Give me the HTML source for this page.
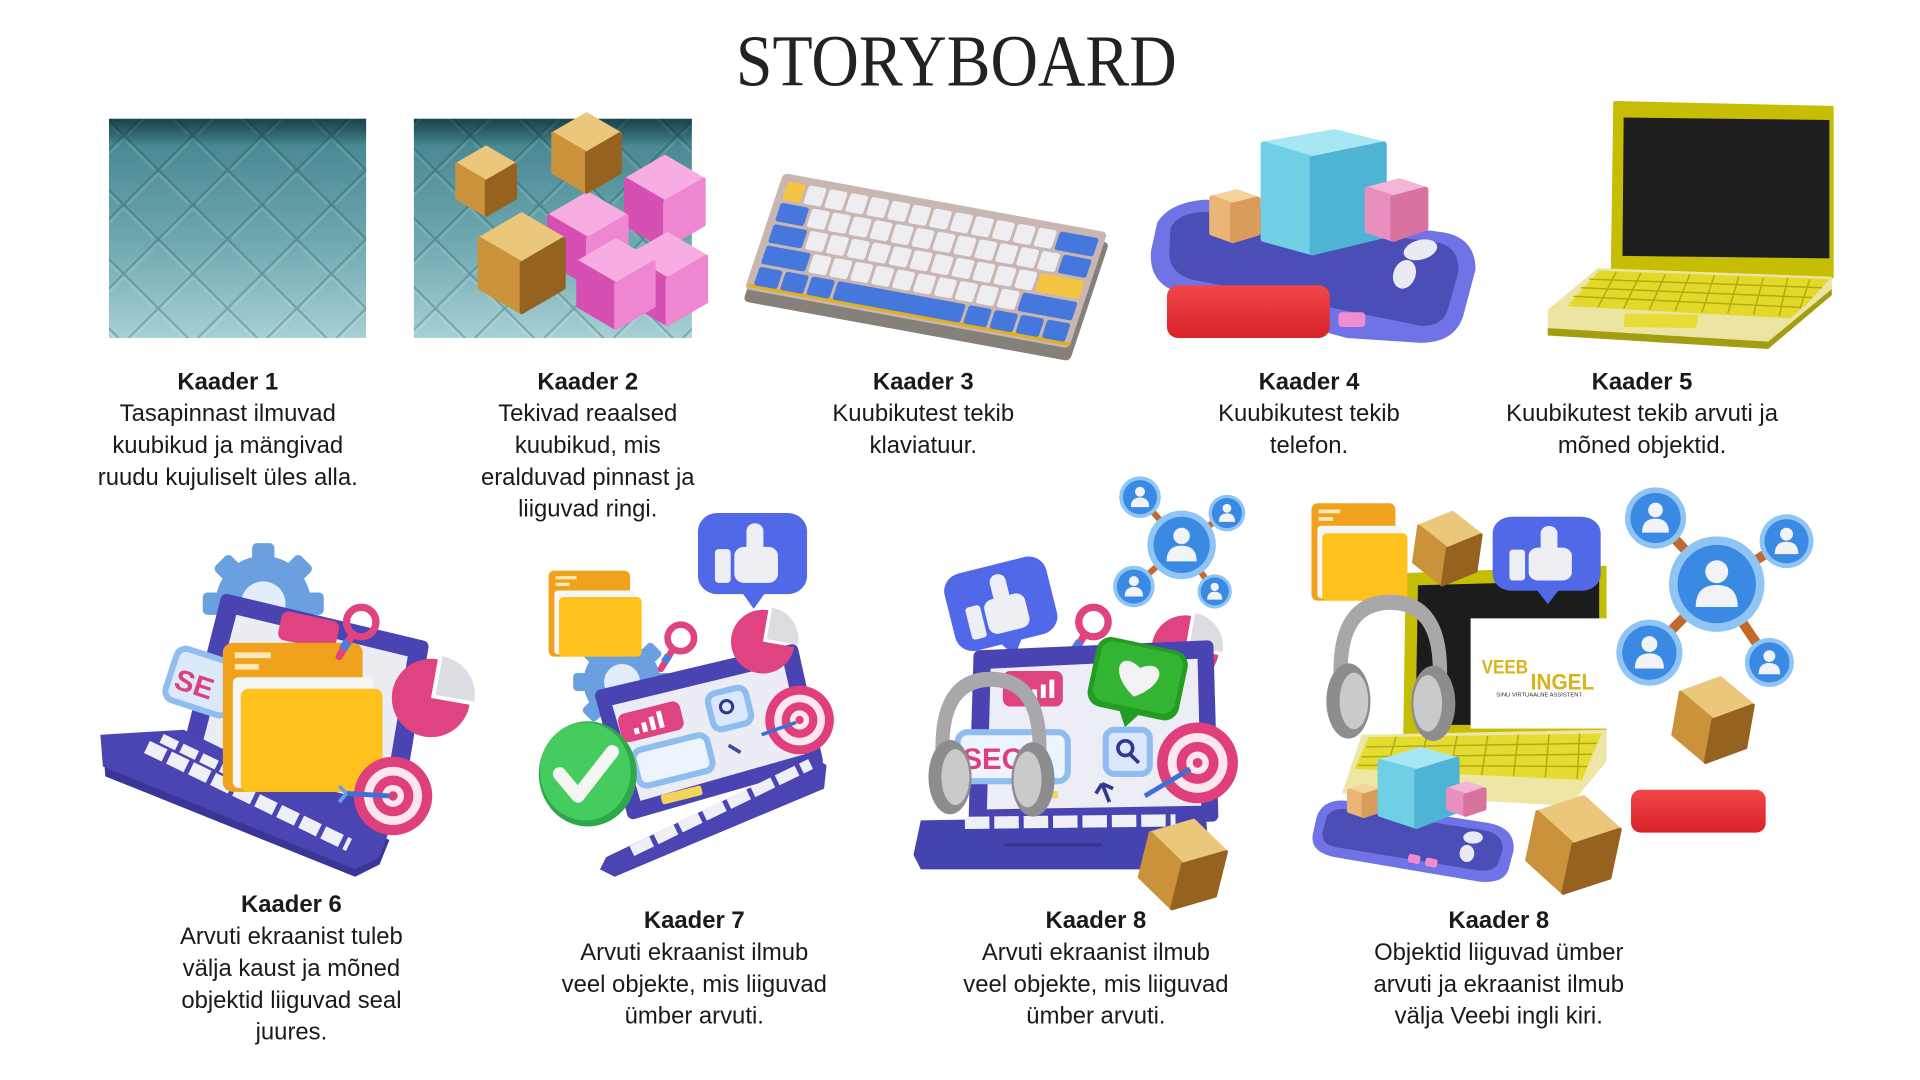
<!DOCTYPE html>
<html>
<head>
<meta charset="utf-8">
<style>
html,body{margin:0;padding:0;background:#ffffff;width:1920px;height:1080px;overflow:hidden;}
svg{display:block;}
.cap{font-family:"Liberation Sans",Arial,sans-serif;font-size:19.5px;fill:#1a1a1a;text-anchor:middle;}
.cap .b{font-weight:700;}
</style>
</head>
<body>
<svg width="1920" height="1080" viewBox="0 0 1568 882" xmlns="http://www.w3.org/2000/svg">
<defs>
  <linearGradient id="teal" x1="0" y1="0" x2="0" y2="1">
    <stop offset="0" stop-color="#2b6570"/>
    <stop offset="0.12" stop-color="#4a8992"/>
    <stop offset="0.55" stop-color="#6ea7af"/>
    <stop offset="1" stop-color="#a6d0d4"/>
  </linearGradient>
  <linearGradient id="topshade" x1="0" y1="0" x2="0" y2="1">
    <stop offset="0" stop-color="rgba(10,40,48,0.55)"/>
    <stop offset="1" stop-color="rgba(10,40,48,0)"/>
  </linearGradient>
  <pattern id="dia" patternUnits="userSpaceOnUse" width="40" height="40" patternTransform="rotate(45 200 180)">
    <path d="M0,0 H40 M0,0 V40" stroke="rgba(15,55,65,0.26)" stroke-width="3" fill="none"/>
    <path d="M3,3 H38 M3,3 V38" stroke="rgba(255,255,255,0.12)" stroke-width="2" fill="none"/>
  </pattern>
  <linearGradient id="redg" x1="0" y1="0" x2="0" y2="1">
    <stop offset="0" stop-color="#f0474b"/>
    <stop offset="1" stop-color="#d8222a"/>
  </linearGradient>
  <g id="gc" stroke-linejoin="round" stroke-width="4">
    <path d="M0,-50 L43,-25 L0,0 L-43,-25 Z" fill="#ebc77c" stroke="#ebc77c"/>
    <path d="M-43,-25 L0,0 L0,50 L-43,25 Z" fill="#c9923b" stroke="#c9923b"/>
    <path d="M43,-25 L0,0 L0,50 L43,25 Z" fill="#95621f" stroke="#95621f"/>
  </g>
  <g id="pc" stroke-linejoin="round" stroke-width="4">
    <path d="M0,-50 L43,-25 L0,0 L-43,-25 Z" fill="#f7ade2" stroke="#f7ade2"/>
    <path d="M-43,-25 L0,0 L0,50 L-43,25 Z" fill="#d64fb2" stroke="#d64fb2"/>
    <path d="M43,-25 L0,0 L0,50 L43,25 Z" fill="#ee86d2" stroke="#ee86d2"/>
  </g>
  <g id="pn">
    <circle r="50" fill="#8ec5f4"/>
    <circle r="41" fill="#3a89e2"/>
    <circle cy="-13" r="12" fill="#f1f3f7"/>
    <path d="M-22,24 Q-22,1 0,1 Q22,1 22,24 Z" fill="#f1f3f7"/>
  </g>
  <g id="th">
    <rect x="0" y="0" width="90" height="72" rx="16" fill="#5168e8"/>
    <path d="M36,70 L46,85 L56,70 Z" fill="#5168e8"/>
    <rect x="14" y="32" width="13" height="30" rx="3" fill="#eeeff4"/>
    <rect x="30" y="30" width="36" height="32" rx="8" fill="#eeeff4"/>
    <rect x="40" y="9" width="14" height="28" rx="7" fill="#eeeff4"/>
  </g>
  <g id="fd">
    <rect x="0" y="0" width="70" height="78" rx="5" fill="#f0a21c"/>
    <rect x="6" y="5" width="18" height="3" fill="#fde9b8"/>
    <rect x="6" y="11" width="12" height="3" fill="#fde9b8"/>
    <rect x="5" y="18" width="70" height="58" rx="3" fill="#f6f6f6"/>
    <rect x="9" y="24" width="71" height="54" rx="4" fill="#ffc21c"/>
  </g>
  <g id="tg">
    <circle r="50" fill="#df3f7b"/>
    <circle r="37" fill="#fde7ef"/>
    <circle r="26" fill="#df3f7b"/>
    <circle r="14" fill="#fde7ef"/>
    <circle r="6" fill="#df3f7b"/>
  </g>
  <g id="pie">
    <path d="M0,0 L49.2,8.7 A50,50 0 1 1 8.7,-49.2 Z" fill="#df4380"/>
    <path d="M6,-4 L14.7,-53.2 A50,50 0 0 1 55.2,4.7 Z" fill="#dcdce2"/>
  </g>
  <g id="mg">
    <circle r="12" fill="none" stroke="#df4380" stroke-width="6"/>
    <path d="M-7,10 L-18,28" stroke="#df4380" stroke-width="6" stroke-linecap="round"/>
    <path d="M-11,16 L-15,22" stroke="#4a7fe0" stroke-width="7"/>
  </g>
  <g id="gr">
    <g fill="#6aa0e0">
      <rect x="-7" y="-38" width="14" height="76" rx="3"/>
      <rect x="-7" y="-38" width="14" height="76" rx="3" transform="rotate(45)"/>
      <rect x="-7" y="-38" width="14" height="76" rx="3" transform="rotate(90)"/>
      <rect x="-7" y="-38" width="14" height="76" rx="3" transform="rotate(135)"/>
      <circle r="30"/>
    </g>
    <circle r="14" fill="#e3edfa"/>
  </g>
  <g id="hp">
    <path d="M12,82 Q4,4 56,4 Q108,4 100,82" stroke="#a8a8ab" stroke-width="13" fill="none" stroke-linecap="round"/>
    <ellipse cx="18" cy="88" rx="20" ry="32" fill="#8d8d90"/>
    <ellipse cx="23" cy="88" rx="13" ry="24" fill="#cacacd"/>
    <ellipse cx="95" cy="90" rx="20" ry="32" fill="#8d8d90"/>
    <ellipse cx="90" cy="90" rx="13" ry="24" fill="#cacacd"/>
  </g>
</defs>

<rect width="1568" height="882" fill="#ffffff"/>

<text x="601" y="70" font-family="'Liberation Serif','Times New Roman',serif" font-size="60" fill="#222222" textLength="360" lengthAdjust="spacingAndGlyphs">STORYBOARD</text>

<!-- IMAGE 1 -->
<rect x="89" y="97" width="210" height="179" fill="url(#teal)"/>
<rect x="89" y="97" width="210" height="179" fill="url(#dia)"/>
<rect x="89" y="97" width="210" height="22" fill="url(#topshade)"/>

<!-- IMAGE 2 -->
<rect x="338" y="97" width="227" height="179" fill="url(#teal)"/>
<rect x="338" y="97" width="227" height="179" fill="url(#dia)"/>
<rect x="338" y="97" width="227" height="22" fill="url(#topshade)"/>
<use href="#pc" transform="translate(543,165) scale(0.74)"/>
<use href="#pc" transform="translate(480,195) scale(0.74)"/>
<use href="#pc" transform="translate(545,228) scale(0.74)"/>
<use href="#pc" transform="translate(503,232) scale(0.72)"/>
<use href="#gc" transform="translate(397,148) scale(0.56)"/>
<use href="#gc" transform="translate(479,125) scale(0.64)"/>
<use href="#gc" transform="translate(426,215) scale(0.8)"/>

<!-- IMAGE 3 KEYBOARD -->
<g transform="matrix(0.988,0.181,-0.322,0.967,643,147)">
  <rect x="-3" y="3" width="270" height="100" rx="4" fill="#858079"/>
  <rect x="-5" y="-5" width="268" height="98" rx="4" fill="#c9b6b2"/>
  <rect x="-3" y="88" width="266" height="3" fill="#e0b020"/>
  <g fill="#eeeef2">
    <rect x="18.3" y="1" width="14.8" height="15.5" rx="2"/><rect x="35.6" y="1" width="14.8" height="15.5" rx="2"/><rect x="52.9" y="1" width="14.8" height="15.5" rx="2"/><rect x="70.2" y="1" width="14.8" height="15.5" rx="2"/><rect x="87.5" y="1" width="14.8" height="15.5" rx="2"/><rect x="104.8" y="1" width="14.8" height="15.5" rx="2"/><rect x="122.1" y="1" width="14.8" height="15.5" rx="2"/><rect x="139.4" y="1" width="14.8" height="15.5" rx="2"/><rect x="156.7" y="1" width="14.8" height="15.5" rx="2"/><rect x="174" y="1" width="14.8" height="15.5" rx="2"/><rect x="191.3" y="1" width="14.8" height="15.5" rx="2"/><rect x="208.6" y="1" width="14.8" height="15.5" rx="2"/>
    <rect x="26.95" y="19" width="14.8" height="15.5" rx="2"/><rect x="44.25" y="19" width="14.8" height="15.5" rx="2"/><rect x="61.55" y="19" width="14.8" height="15.5" rx="2"/><rect x="78.85" y="19" width="14.8" height="15.5" rx="2"/><rect x="96.15" y="19" width="14.8" height="15.5" rx="2"/><rect x="113.45" y="19" width="14.8" height="15.5" rx="2"/><rect x="130.75" y="19" width="14.8" height="15.5" rx="2"/><rect x="148.05" y="19" width="14.8" height="15.5" rx="2"/><rect x="165.35" y="19" width="14.8" height="15.5" rx="2"/><rect x="182.65" y="19" width="14.8" height="15.5" rx="2"/><rect x="199.95" y="19" width="14.8" height="15.5" rx="2"/><rect x="217.25" y="19" width="14.8" height="15.5" rx="2"/>
    <rect x="31.28" y="37" width="14.8" height="15.5" rx="2"/><rect x="48.58" y="37" width="14.8" height="15.5" rx="2"/><rect x="65.88" y="37" width="14.8" height="15.5" rx="2"/><rect x="83.18" y="37" width="14.8" height="15.5" rx="2"/><rect x="100.48" y="37" width="14.8" height="15.5" rx="2"/><rect x="117.78" y="37" width="14.8" height="15.5" rx="2"/><rect x="135.08" y="37" width="14.8" height="15.5" rx="2"/><rect x="152.38" y="37" width="14.8" height="15.5" rx="2"/><rect x="169.68" y="37" width="14.8" height="15.5" rx="2"/><rect x="186.98" y="37" width="14.8" height="15.5" rx="2"/><rect x="204.28" y="37" width="14.8" height="15.5" rx="2"/>
    <rect x="39.93" y="55" width="14.8" height="15.5" rx="2"/><rect x="57.23" y="55" width="14.8" height="15.5" rx="2"/><rect x="74.53" y="55" width="14.8" height="15.5" rx="2"/><rect x="91.83" y="55" width="14.8" height="15.5" rx="2"/><rect x="109.13" y="55" width="14.8" height="15.5" rx="2"/><rect x="126.43" y="55" width="14.8" height="15.5" rx="2"/><rect x="143.73" y="55" width="14.8" height="15.5" rx="2"/><rect x="161.03" y="55" width="14.8" height="15.5" rx="2"/><rect x="178.33" y="55" width="14.8" height="15.5" rx="2"/><rect x="195.63" y="55" width="14.8" height="15.5" rx="2"/>
  </g>
  <g fill="#4577dc">
    <rect x="225.9" y="1" width="32.1" height="15.5" rx="2"/>
    <rect x="1" y="19" width="23.45" height="15.5" rx="2"/><rect x="234.55" y="19" width="23.45" height="15.5" rx="2"/>
    <rect x="1" y="37" width="27.78" height="15.5" rx="2"/>
    <rect x="1" y="55" width="36.43" height="15.5" rx="2"/><rect x="212.93" y="55" width="45.08" height="15.5" rx="2"/>
    <rect x="1" y="73" width="19.13" height="15.5" rx="2"/><rect x="22.63" y="73" width="19.13" height="15.5" rx="2"/><rect x="44.25" y="73" width="19.13" height="15.5" rx="2"/>
    <rect x="65.88" y="73" width="105.63" height="15.5" rx="2"/>
    <rect x="174" y="73" width="19.13" height="15.5" rx="2"/><rect x="195.63" y="73" width="19.13" height="15.5" rx="2"/><rect x="217.25" y="73" width="19.13" height="15.5" rx="2"/><rect x="238.88" y="73" width="19.13" height="15.5" rx="2"/>
  </g>
  <g fill="#f4c542">
    <rect x="1" y="1" width="14.8" height="15.5" rx="2"/>
    <rect x="221.58" y="37" width="36.43" height="15.5" rx="2"/>
  </g>
</g>

<!-- IMAGE 4 PHONE -->
<path d="M945,182 Q955,165 985,163 L1180,190 Q1205,195 1205,220 L1195,258 Q1188,280 1160,280 L1100,276 L960,238 Q938,230 940,205 Z" fill="#6f73e6"/>
<path d="M956,186 Q963,173 985,173 L1174,198 Q1192,202 1191,222 L1182,254 Q1177,267 1160,266 L972,228 Q954,222 955,205 Z" fill="#4a4eb6"/>
<g stroke-linejoin="round" stroke-width="5">
  <path d="M990,162 L1010,157 L1027,163 L1007,168 Z" fill="#f6d39c" stroke="#f6d39c"/>
  <path d="M990,162 L1007,168 L1007,196 L990,190 Z" fill="#eab577" stroke="#eab577"/>
  <path d="M1007,168 L1027,163 L1027,190 L1007,196 Z" fill="#d99c5a" stroke="#d99c5a"/>
  <path d="M1032,118 L1090,108 L1130,118 L1072,130 Z" fill="#a6e7f3" stroke="#a6e7f3"/>
  <path d="M1032,118 L1072,130 L1072,206 L1032,195 Z" fill="#6fcfe4" stroke="#6fcfe4"/>
  <path d="M1072,130 L1130,118 L1130,192 L1072,206 Z" fill="#4fb4d4" stroke="#4fb4d4"/>
  <path d="M1117,155 L1143,148 L1164,155 L1138,162 Z" fill="#f3b6d8" stroke="#f3b6d8"/>
  <path d="M1117,155 L1138,162 L1138,195 L1117,188 Z" fill="#e98fc0" stroke="#e98fc0"/>
  <path d="M1138,162 L1164,155 L1164,186 L1138,195 Z" fill="#d8729f" stroke="#d8729f"/>
</g>
<ellipse cx="1160" cy="204" rx="14" ry="8" fill="#e9eaf2" transform="rotate(-15 1160 204)"/>
<ellipse cx="1147" cy="224" rx="9" ry="12" fill="#e9eaf2" transform="rotate(20 1147 224)"/>
<rect x="953" y="233" width="133" height="43" rx="9" fill="url(#redg)"/>
<rect x="1093" y="255" width="22" height="12" rx="3" fill="#f08ccf"/>

<!-- IMAGE 5 LAPTOP -->
<path d="M1319,84 L1496,88 L1496,226 L1317,221 Z" fill="#c6bd05" stroke="#c6bd05" stroke-width="3" stroke-linejoin="round"/>
<path d="M1326,96 L1494,98 L1494,211 L1325,209 Z" fill="#1e1e1e"/>
<path d="M1305,219 L1496,226 L1496,237 L1444,281 L1264,271 L1264,253 Z" fill="#ebe4a2"/>
<path d="M1264,268 L1444,279 L1496,236 L1496,241 L1444,285 L1264,274 Z" fill="#a39d10"/>
<path d="M1306,221 L1494,228 L1478,246 L1462,260 L1280,250 Z" fill="#e3d92a"/>
<g stroke="#b3aa10" stroke-width="1.2">
  <path d="M1298,228 L1488,235 M1291,235 L1480,243 M1285,242 L1470,251"/>
  <path d="M1320,222 L1305,251 M1340,223 L1326,252 M1360,224 L1347,253 M1380,224 L1368,254 M1400,225 L1390,255 M1420,226 L1411,256 M1440,227 L1432,257 M1460,227 L1453,258 M1478,228 L1470,252"/>
</g>
<path d="M1327,256 L1387,257 L1385,268 L1326,267 Z" fill="#e7dc35"/>

<!-- IMAGE 6 -->
<use href="#gr" transform="translate(215,493) scale(1.3)"/>
<path d="M185,490 L345,528 L322,668 L150,628 Z" fill="#4a44b3" stroke="#4a44b3" stroke-width="10" stroke-linejoin="round"/>
<path d="M193,502 L333,536 L313,656 L162,620 Z" fill="#ececf3"/>
<rect x="228" y="503" width="48" height="24" rx="6" fill="#df4380" transform="rotate(12 252 515)"/>
<rect x="200" y="605" width="30" height="6" fill="#f3d55a" transform="rotate(12 215 608)"/>
<g transform="rotate(18 162 558)">
  <rect x="138" y="534" width="54" height="44" rx="8" fill="#dbe9fb" stroke="#8fbdf0" stroke-width="5"/>
  <text x="143" y="568" font-family="'Liberation Sans',Arial,sans-serif" font-weight="700" font-size="24" fill="#df3f7b">SE</text>
</g>
<path d="M84,608 L150,604 L318,686 L310,706 L290,716 L86,634 Z" fill="#3a3596"/>
<path d="M82,600 L150,596 L318,678 L310,700 L290,710 L84,626 Z" fill="#4a45b3"/>
<path d="M120,610 L285,690" stroke="#eef0f6" stroke-width="11" stroke-dasharray="16 4"/>
<path d="M132,603 L200,636" stroke="#eef0f6" stroke-width="8" stroke-dasharray="14 4"/>
<use href="#fd" transform="translate(182,525) scale(1.63,1.56)"/>
<use href="#pie" transform="translate(352,570) scale(0.64)"/>
<use href="#tg" transform="translate(321,650) scale(0.64)"/>
<path d="M283,648 L318,650" stroke="#3e70d4" stroke-width="4"/>
<path d="M283,648 L277,642 M283,648 L277,655" stroke="#6aa0e8" stroke-width="3"/>
<use href="#mg" transform="translate(295,508)"/>

<!-- IMAGE 7 -->
<use href="#gr" transform="translate(508,557) scale(1.05)"/>
<path d="M491,568 L647,531 L667,621 L517,664 Z" fill="#4a44b3" stroke="#4a44b3" stroke-width="10" stroke-linejoin="round"/>
<path d="M500,576 L640,542 L657,616 L523,654 Z" fill="#ececf4"/>
<g transform="rotate(-14 580 598)">
  <rect x="509" y="566" width="52" height="24" rx="6" fill="#df4380"/>
  <rect x="520" y="580" width="4" height="5" fill="#fff"/><rect x="527" y="577" width="4" height="8" fill="#fff"/><rect x="534" y="574" width="4" height="11" fill="#fff"/><rect x="541" y="571" width="4" height="14" fill="#fff"/>
  <rect x="514" y="598" width="62" height="30" rx="7" fill="#eef4fd" stroke="#8fbdf0" stroke-width="5"/>
  <rect x="584" y="568" width="32" height="30" rx="7" fill="#dbe8fb" stroke="#8fbdf0" stroke-width="5"/>
  <circle cx="598" cy="581" r="5" fill="none" stroke="#2f3a8f" stroke-width="2.5"/>
  <rect x="528" y="638" width="34" height="8" rx="2" fill="#f3d55a"/>
  <path d="M592,612 L600,620" stroke="#3a4aa0" stroke-width="3"/>
</g>
<path d="M495,700 L665,618 L675,625 L673,644 L502,716 L490,710 Z" fill="#4a45b3"/>
<path d="M516,695 L662,624" stroke="#eef0f6" stroke-width="9" stroke-dasharray="18 4"/>
<use href="#fd" transform="translate(448,466) scale(0.95,0.9)"/>
<use href="#th" transform="translate(570,419) scale(0.99,0.92)"/>
<use href="#pie" transform="translate(623,524) scale(0.52)"/>
<use href="#mg" transform="translate(556,521) scale(0.9)"/>
<use href="#tg" transform="translate(653,588) scale(0.56)"/>
<path d="M622,600 L650,590" stroke="#3e70d4" stroke-width="3"/>
<ellipse cx="480" cy="632" rx="40" ry="43" fill="#2fa84a"/>
<ellipse cx="478" cy="630" rx="37" ry="40" fill="#45cc5e"/>
<path d="M457,632 L472,650 L500,614" stroke="#f4f6f4" stroke-width="11" fill="none" stroke-linecap="round" stroke-linejoin="round"/>

<!-- IMAGE 8 -->
<g transform="translate(768,472) rotate(-14) scale(0.95,0.9)"><use href="#th"/></g>
<g stroke="#c4692b" stroke-width="5">
  <path d="M965,445 L931,406 M965,445 L1002,419 M965,445 L926,479 M965,445 L992,483"/>
</g>
<use href="#pn" transform="translate(931,406) scale(0.34)"/>
<use href="#pn" transform="translate(1002,419) scale(0.3)"/>
<use href="#pn" transform="translate(926,479) scale(0.34)"/>
<use href="#pn" transform="translate(992,483) scale(0.28)"/>
<use href="#pn" transform="translate(965,445) scale(0.56)"/>
<use href="#mg" transform="translate(893,508)"/>
<use href="#pie" transform="translate(968,530) scale(0.55)"/>
<path d="M800,536 L986,528 L990,666 L796,670 Z" fill="#4a44b3" stroke="#4a44b3" stroke-width="10" stroke-linejoin="round"/>
<path d="M809,546 L978,538 L981,658 L806,661 Z" fill="#ededf5"/>
<rect x="819" y="548" width="49" height="29" rx="6" fill="#df4380"/>
<rect x="843" y="563" width="4" height="7" fill="#fff"/><rect x="850" y="559" width="4" height="11" fill="#fff"/><rect x="857" y="555" width="4" height="15" fill="#fff"/>
<rect x="782" y="598" width="90" height="40" rx="8" fill="#eef4fd" stroke="#8fbdf0" stroke-width="5"/>
<text x="786" y="628" font-family="'Liberation Sans',Arial,sans-serif" font-weight="700" font-size="24" fill="#df3f7b">SEO</text>
<rect x="903" y="596" width="36" height="36" rx="7" fill="#dbe8fb" stroke="#8fbdf0" stroke-width="5"/>
<circle cx="919" cy="611" r="6" fill="none" stroke="#2f3a8f" stroke-width="3"/>
<path d="M923,616 L930,623" stroke="#2f3a8f" stroke-width="3"/>
<path d="M900,640 L906,655 M900,640 L895,648 M900,640 L909,644" stroke="#2f3a8f" stroke-width="3"/>
<rect x="838" y="646" width="26" height="6" fill="#f3d55a"/>
<g transform="translate(898,518) rotate(12)">
  <rect x="0" y="0" width="76" height="58" rx="12" fill="#239c23"/>
  <path d="M28,56 L36,70 L46,56 Z" fill="#239c23"/>
  <rect x="4" y="3" width="68" height="50" rx="10" fill="#33b433"/>
  <path d="M38,44 C12,28 20,8 38,20 C56,8 64,28 38,44 Z" fill="#f2f2f2"/>
</g>
<path d="M752,670 L985,666 L987,700 L980,710 L752,710 L746,698 Z" fill="#4543ad"/>
<path d="M788,672 L960,670" stroke="#eef0f6" stroke-width="10" stroke-dasharray="20 4"/>
<path d="M820,690 L900,690" stroke="#3a3596" stroke-width="3"/>
<use href="#tg" transform="translate(978,623) scale(0.66)"/>
<path d="M935,650 L972,628" stroke="#3e70d4" stroke-width="4"/>
<use href="#hp" transform="translate(760,551) scale(0.88,0.95)"/>
<use href="#gc" transform="translate(966,706) rotate(14) scale(0.74)"/>

<!-- IMAGE 9 -->
<g stroke="#c4692b" stroke-width="8">
  <path d="M1402,477 L1352,423 M1402,477 L1459,442 M1402,477 L1347,533 M1402,477 L1445,541"/>
</g>
<use href="#pn" transform="translate(1352,423) scale(0.5)"/>
<use href="#pn" transform="translate(1459,442) scale(0.44)"/>
<use href="#pn" transform="translate(1347,533) scale(0.54)"/>
<use href="#pn" transform="translate(1445,541) scale(0.4)"/>
<use href="#pn" transform="translate(1402,477) scale(0.78)"/>
<use href="#gc" transform="translate(1399,588) rotate(10) scale(0.7)"/>
<rect x="1332" y="645" width="110" height="35" rx="8" fill="url(#redg)"/>

<path d="M1148,468 L1312,462 L1312,600 L1146,600 Z" fill="#c6bd05"/>
<path d="M1158,478 L1306,474 L1306,592 L1156,592 Z" fill="#1c1c1c"/>
<rect x="1201" y="505" width="111" height="90" fill="#ffffff"/>
<text x="1210" y="550" font-family="'Liberation Sans',Arial,sans-serif" font-weight="700" font-size="16" fill="#d8b31c" textLength="38" lengthAdjust="spacingAndGlyphs">VEEB</text>
<text x="1250" y="563" font-family="'Liberation Sans',Arial,sans-serif" font-weight="700" font-size="18" fill="#d8b31c" textLength="52" lengthAdjust="spacingAndGlyphs">INGEL</text>
<text x="1222" y="569" font-family="'Liberation Sans',Arial,sans-serif" font-size="4.5" fill="#333" textLength="70" lengthAdjust="spacingAndGlyphs">SINU VIRTUAALNE ASSISTENT</text>
<use href="#fd" transform="translate(1071,411) scale(0.98,1.02)"/>
<use href="#gc" transform="translate(1182,448) rotate(8) scale(0.6)"/>
<use href="#th" transform="translate(1219,422) scale(0.98,0.84)"/>
<path d="M1112,600 L1312,596 L1312,622 L1282,658 L1096,648 Z" fill="#ede6a4"/>
<path d="M1118,602 L1308,599 L1292,637 L1106,628 Z" fill="#e4dc30"/>
<g stroke="#b3aa10" stroke-width="1.2">
  <path d="M1116,610 L1304,607 M1112,618 L1300,616 M1109,625 L1296,626"/>
  <path d="M1140,602 L1132,630 M1165,602 L1158,631 M1190,601 L1184,632 M1215,601 L1210,633 M1240,600 L1236,634 M1265,600 L1262,635 M1290,599 L1288,636"/>
</g>
<use href="#hp" transform="translate(1085,488) scale(0.9,0.96)"/>
<path d="M1075,668 Q1080,652 1100,654 L1215,672 Q1238,676 1236,695 L1232,710 Q1228,722 1208,720 L1090,700 Q1070,696 1072,682 Z" fill="#6f73e6"/>
<path d="M1083,668 Q1087,659 1101,661 L1212,678 Q1228,681 1227,694 L1224,704 Q1221,712 1208,711 L1092,692 Q1079,690 1080,680 Z" fill="#4a4eb6"/>
<rect x="1150" y="698" width="10" height="7" rx="2" fill="#f08ccf" transform="rotate(12 1155 701)"/>
<rect x="1164" y="701" width="10" height="7" rx="2" fill="#f08ccf" transform="rotate(12 1169 704)"/>
<ellipse cx="1203" cy="684" rx="8" ry="5" fill="#e9eaf2"/>
<ellipse cx="1198" cy="697" rx="6" ry="7" fill="#e9eaf2"/>
<g stroke-linejoin="round" stroke-width="4">
  <path d="M1102,646 L1114,642 L1126,646 L1114,650 Z" fill="#f6d39c" stroke="#f6d39c"/>
  <path d="M1102,646 L1114,650 L1114,666 L1102,662 Z" fill="#eab577" stroke="#eab577"/>
  <path d="M1114,650 L1126,646 L1126,662 L1114,666 Z" fill="#d99c5a" stroke="#d99c5a"/>
  <path d="M1127,622 L1160,612 L1190,620 L1157,630 Z" fill="#a6e7f3" stroke="#a6e7f3"/>
  <path d="M1127,622 L1157,630 L1157,675 L1127,665 Z" fill="#6fcfe4" stroke="#6fcfe4"/>
  <path d="M1157,630 L1190,620 L1190,662 L1157,675 Z" fill="#4fb4d4" stroke="#4fb4d4"/>
  <path d="M1183,645 L1198,640 L1212,645 L1197,650 Z" fill="#f3b6d8" stroke="#f3b6d8"/>
  <path d="M1183,645 L1197,650 L1197,665 L1183,660 Z" fill="#e98fc0" stroke="#e98fc0"/>
  <path d="M1197,650 L1212,645 L1212,660 L1197,665 Z" fill="#d8729f" stroke="#d8729f"/>
</g>
<use href="#gc" transform="translate(1285,690) rotate(12) scale(0.8)"/>

<!-- CAPTIONS ROW 1 -->
<text class="cap"><tspan class="b" x="186" y="318">Kaader 1</tspan><tspan x="186" y="344">Tasapinnast ilmuvad</tspan><tspan x="186" y="370">kuubikud ja mängivad</tspan><tspan x="186" y="396">ruudu kujuliselt üles alla.</tspan></text>
<text class="cap"><tspan class="b" x="480" y="318">Kaader 2</tspan><tspan x="480" y="344">Tekivad reaalsed</tspan><tspan x="480" y="370">kuubikud, mis</tspan><tspan x="480" y="396">eralduvad pinnast ja</tspan><tspan x="480" y="422">liiguvad ringi.</tspan></text>
<text class="cap"><tspan class="b" x="754" y="318">Kaader 3</tspan><tspan x="754" y="344">Kuubikutest tekib</tspan><tspan x="754" y="370">klaviatuur.</tspan></text>
<text class="cap"><tspan class="b" x="1069" y="318">Kaader 4</tspan><tspan x="1069" y="344">Kuubikutest tekib</tspan><tspan x="1069" y="370">telefon.</tspan></text>
<text class="cap"><tspan class="b" x="1341" y="318">Kaader 5</tspan><tspan x="1341" y="344">Kuubikutest tekib arvuti ja</tspan><tspan x="1341" y="370">mõned objektid.</tspan></text>

<!-- CAPTIONS ROW 2 -->
<text class="cap"><tspan class="b" x="238" y="745">Kaader 6</tspan><tspan x="238" y="771">Arvuti ekraanist tuleb</tspan><tspan x="238" y="797">välja kaust ja mõned</tspan><tspan x="238" y="823">objektid liiguvad seal</tspan><tspan x="238" y="849">juures.</tspan></text>
<text class="cap"><tspan class="b" x="567" y="758">Kaader 7</tspan><tspan x="567" y="784">Arvuti ekraanist ilmub</tspan><tspan x="567" y="810">veel objekte, mis liiguvad</tspan><tspan x="567" y="836">ümber arvuti.</tspan></text>
<text class="cap"><tspan class="b" x="895" y="758">Kaader 8</tspan><tspan x="895" y="784">Arvuti ekraanist ilmub</tspan><tspan x="895" y="810">veel objekte, mis liiguvad</tspan><tspan x="895" y="836">ümber arvuti.</tspan></text>
<text class="cap"><tspan class="b" x="1224" y="758">Kaader 8</tspan><tspan x="1224" y="784">Objektid liiguvad ümber</tspan><tspan x="1224" y="810">arvuti ja ekraanist ilmub</tspan><tspan x="1224" y="836">välja Veebi ingli kiri.</tspan></text>
</svg>
</body>
</html>
